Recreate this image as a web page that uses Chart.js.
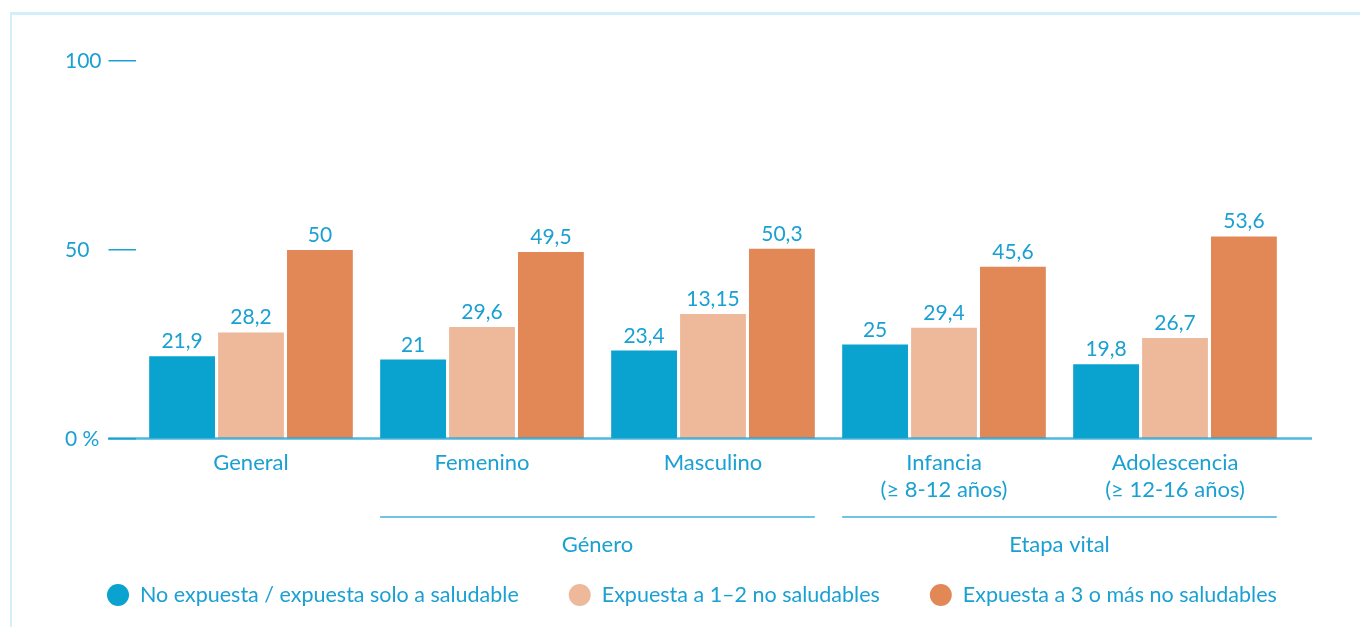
<!DOCTYPE html>
<html lang="es">
<head>
<meta charset="UTF-8">
<title>Exposición a entornos no saludables</title>
<style>
  body { margin: 0; background: #fff; }
  #caja { position: relative; width: 1360px; height: 627px; overflow: hidden; }
  #marco { position: absolute; left: 10px; top: 12px; width: 1400px; height: 700px;
           border-top: 3px solid #d3eff9; border-left: 2px solid #d3eff9; }
  #grafico { position: absolute; left: 0; top: 0; }
</style>
</head>
<body>
<div id="caja">
  <div id="marco"></div>
  <canvas id="grafico" width="1360" height="627"></canvas>
</div>

<script src="https://cdn.jsdelivr.net/npm/chart.js"></script>

<script>
    const categorias = ['General', 'Femenino', 'Masculino', ['Infancia', '(≥ 8-12 años)'], ['Adolescencia', '(≥ 12-16 años)']]
    const noExpuesta = [21.9, 21, 23.4, 25, 19.8]
    const expuesta12 = [28.2, 29.6, 33.1, 29.4, 26.7]
    const expuesta3 = [50, 49.5, 50.3, 45.6, 53.6]
    // textos tal como salen en el original (el "13,15" no cuadra con la barra)
    const textosNo = ['21,9', '21', '23,4', '25', '19,8']
    const textos12 = ['28,2', '29,6', '13,15', '29,4', '26,7']
    const textos3 = ['50', '49,5', '50,3', '45,6', '53,6']
    const ticksY = [0, 50, 100]
    const grupos = [
        { nombre: 'Género', desde: 1, hasta: 2 },
        { nombre: 'Etapa vital', desde: 3, hasta: 4 }
    ]

    const AZUL = '#1aa0d2'
    const FUENTE = 'Lato, "Open Sans", sans-serif'

    const extras = {
        id: 'extras',
        afterDatasetsDraw(chart) {
            const ctx = chart.ctx
            const area = chart.chartArea
            const y0 = chart.scales.y.getPixelForValue(0)
            ctx.save()
            // valores encima de las barras
            ctx.font = '21px ' + FUENTE
            ctx.fillStyle = AZUL
            ctx.textAlign = 'center'
            ctx.textBaseline = 'alphabetic'
            chart.data.datasets.forEach((ds, i) => {
                chart.getDatasetMeta(i).data.forEach((bar, j) => {
                    ctx.fillText(ds.textos[j], bar.x, bar.y - 8)
                })
            })
            // línea base
            ctx.strokeStyle = 'rgba(20,160,210,0.75)'
            ctx.lineWidth = 2.5
            ctx.beginPath()
            ctx.moveTo(area.left - 27.5, y0 - 0.5)
            ctx.lineTo(area.right + 21.5, y0 - 0.5)
            ctx.stroke()
            ctx.restore()
        },
        afterDraw(chart) {
            const ctx = chart.ctx
            const primero = chart.getDatasetMeta(0).data
            const ultimo = chart.getDatasetMeta(chart.data.datasets.length - 1).data
            ctx.save()
            ctx.font = '22px ' + FUENTE
            ctx.fillStyle = AZUL
            ctx.strokeStyle = '#3cb0da'
            ctx.lineWidth = 1.5
            ctx.textAlign = 'center'
            ctx.textBaseline = 'middle'
            // grupos bajo el eje
            grupos.forEach(g => {
                const a = primero[g.desde].x - primero[g.desde].width / 2
                const b = ultimo[g.hasta].x + ultimo[g.hasta].width / 2
                ctx.beginPath()
                ctx.moveTo(a, 517)
                ctx.lineTo(b, 517)
                ctx.stroke()
                ctx.fillText(g.nombre, (a + b) / 2, 545)
            })
            // leyenda
            ctx.font = '21.5px ' + FUENTE
            ctx.textAlign = 'left'
            let x = 107
            chart.data.datasets.forEach(ds => {
                ctx.fillStyle = ds.backgroundColor
                ctx.beginPath()
                ctx.arc(x + 11, 595, 11, 0, Math.PI * 2)
                ctx.fill()
                ctx.fillStyle = AZUL
                ctx.fillText(ds.label, x + 33, 595)
                x += 33 + ctx.measureText(ds.label).width + 50
            })
            ctx.restore()
        }
    }

    const ctx = document.getElementById('grafico')
    const grafico = new Chart(ctx, {
        type: 'bar',
        data: {
            labels: categorias,
            datasets: [
                { label: 'No expuesta / expuesta solo a saludable', data: noExpuesta, textos: textosNo, backgroundColor: '#0aa2ce' },
                { label: 'Expuesta a 1–2 no saludables', data: expuesta12, textos: textos12, backgroundColor: '#eeb89a' },
                { label: 'Expuesta a 3 o más no saludables', data: expuesta3, textos: textos3, backgroundColor: '#e28856' }
            ]
        },
        options: {
            responsive: false,
            animation: false,
            devicePixelRatio: 1,
            categoryPercentage: 0.895,
            barPercentage: 0.955,
            layout: { padding: { left: 65, right: 69.5, top: 61, bottom: 0 } },
            plugins: {
                legend: { display: false },
                tooltip: { enabled: false }
            },
            scales: {
                x: {
                    grid: { display: false, drawTicks: false },
                    border: { display: false },
                    ticks: {
                        color: AZUL,
                        font: { family: FUENTE, size: 22 },
                        padding: 11,
                        maxRotation: 0,
                        autoSkip: false
                    },
                    afterFit: s => { s.height = 188 }
                },
                y: {
                    min: 0,
                    max: 100,
                    grid: { drawOnChartArea: false, drawTicks: true, tickLength: 27, color: AZUL, lineWidth: 1.5 },
                    border: { display: false },
                    afterBuildTicks: s => { s.ticks = ticksY.map(v => ({ value: v })) },
                    ticks: {
                        color: AZUL,
                        font: { family: FUENTE, size: 21 },
                        crossAlign: 'far',
                        callback: v => v === 0 ? '0 %' : String(v)
                    },
                    afterFit: s => { s.width = 70.5 }
                }
            }
        },
        plugins: [extras]
    })
</script>
</body>
</html>
